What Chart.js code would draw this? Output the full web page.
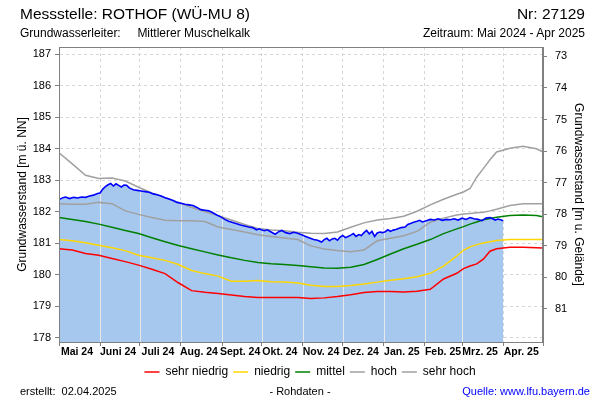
<!DOCTYPE html>
<html>
<head>
<meta charset="utf-8">
<script src="https://cdn.jsdelivr.net/npm/chart.js@4.4.1/dist/chart.umd.min.js"></script>
<style>
html,body{margin:0;padding:0;background:#fff}
#wrap{position:relative;width:600px;height:400px;font-family:"Liberation Sans",Arial,sans-serif;color:#000}
#wrap canvas{position:absolute;left:0;top:0}
.t{position:absolute;white-space:pre;line-height:1}
</style>
</head>
<body>
<div id="wrap">
  <canvas id="gwChart" width="600" height="400"></canvas>
  <div class="t" style="left:20px;top:6px;font-size:15.5px">Messstelle: ROTHOF (WÜ-MU 8)</div>
  <div class="t" style="right:15px;top:6px;font-size:15.5px">Nr: 27129</div>
  <div class="t" style="left:20px;top:27px;font-size:12px">Grundwasserleiter:     Mittlerer Muschelkalk</div>
  <div class="t" style="right:15px;top:27px;font-size:12px">Zeitraum: Mai 2024 - Apr 2025</div>
  <div class="t" style="left:20px;top:386px;font-size:11px">erstellt:  02.04.2025</div>
  <div class="t" style="left:0;width:600px;text-align:center;top:386px;font-size:11px">- Rohdaten -</div>
  <div class="t" style="right:10px;top:386px;font-size:11px;color:#0000ff">Quelle: www.lfu.bayern.de</div>
</div>
<script>
// Tage seit 01.05.2024
const monthStarts = [0, 31, 61, 92, 123, 153, 184, 214, 245, 276, 304, 335, 365];
const monthLabels = ['Mai 24', 'Juni 24', 'Juli 24', 'Aug. 24', 'Sept. 24', 'Okt. 24', 'Nov. 24', 'Dez. 24', 'Jan. 25', 'Feb. 25', 'Mrz. 25', 'Apr. 25', ''];
const levelTicks = [178, 179, 180, 181, 182, 183, 184, 185, 186, 187];
const depthTicks = [73, 74, 75, 76, 77, 78, 79, 80, 81];
const levelMin = 177.87;
const levelMax = 187.23;
const groundLevel = 259.93;

const statDays = [0,10,20,30,40,50,60,70,80,90,100,110,120,130,140,150,160,170,180,190,200,210,220,230,240,250,260,270,280,290,300,305,310,315,320,325,330,340,350,360,365];
const sehrNiedrig = [180.83,180.79,180.68,180.62,180.52,180.42,180.31,180.18,180.04,179.75,179.50,179.45,179.41,179.36,179.31,179.28,179.28,179.28,179.28,179.25,179.27,179.31,179.37,179.44,179.47,179.47,179.46,179.48,179.54,179.87,180.05,180.20,180.28,180.35,180.50,180.75,180.83,180.88,180.88,180.86,180.85];
const niedrig = [181.12,181.08,181.02,180.94,180.86,180.77,180.62,180.54,180.46,180.33,180.14,180.04,179.96,179.80,179.80,179.82,179.78,179.77,179.74,179.67,179.63,179.63,179.66,179.71,179.77,179.83,179.88,179.94,180.05,180.28,180.60,180.78,180.89,180.96,181.01,181.05,181.09,181.12,181.12,181.12,181.12];
const mittel = [181.82,181.76,181.69,181.61,181.51,181.41,181.31,181.18,181.05,180.93,180.83,180.73,180.63,180.54,180.46,180.39,180.35,180.33,180.30,180.26,180.22,180.21,180.24,180.33,180.49,180.66,180.83,180.97,181.12,181.31,181.46,181.53,181.61,181.68,181.75,181.79,181.83,181.88,181.90,181.88,181.84];
const hoch = [182.26,182.24,182.24,182.30,182.26,182.03,181.92,181.82,181.73,181.72,181.72,181.69,181.52,181.44,181.36,181.27,181.22,181.17,181.12,180.92,180.82,180.77,180.73,180.79,181.08,181.16,181.24,181.38,181.67,181.80,181.90,181.93,181.95,181.97,181.99,182.03,182.08,182.20,182.26,182.26,182.26];
const sehrHoch = [183.87,183.52,183.16,183.06,183.07,182.98,182.78,182.60,182.45,182.30,182.14,182.00,181.88,181.74,181.60,181.47,181.42,181.40,181.35,181.32,181.31,181.36,181.51,181.65,181.74,181.79,181.86,182.02,182.22,182.40,182.56,182.63,182.74,183.10,183.37,183.65,183.90,184.02,184.08,184.00,183.90];

const measuredDays = [0,3,5,8,11,14,17,20,23,26,29,31,33,35,37,39,41,43,45,47,49,51,53,56,59,62,65,68,71,74,77,80,83,86,89,92,95,98,101,104,107,110,113,116,119,122,125,128,131,134,137,140,143,146,149,151,153,155,157,160,163,166,168,171,174,177,180,183,186,189,192,195,198,200,202,204,206,208,210,212,214,216,218,220,222,224,226,228,230,232,234,236,238,240,242,244,246,248,250,252,254,256,258,261,263,265,268,270,272,274,277,280,283,286,289,292,295,298,301,304,307,310,313,316,319,322,325,327,329,331,333,335];
const measuredLevels = [182.39,182.45,182.47,182.42,182.46,182.44,182.47,182.46,182.50,182.53,182.58,182.60,182.72,182.80,182.86,182.90,182.82,182.89,182.84,182.79,182.85,182.84,182.76,182.70,182.68,182.66,182.64,182.62,182.57,182.54,182.50,182.45,182.41,182.36,182.30,182.27,182.24,182.22,182.20,182.14,182.07,182.05,182.03,181.97,181.90,181.84,181.76,181.70,181.66,181.62,181.58,181.55,181.52,181.50,181.43,181.46,181.42,181.40,181.43,181.36,181.29,181.38,181.41,181.34,181.31,181.35,181.32,181.27,181.22,181.17,181.12,181.10,181.04,181.12,181.16,181.08,181.14,181.16,181.10,181.20,181.25,181.18,181.22,181.26,181.31,181.22,181.28,181.25,181.34,181.41,181.30,181.38,181.22,181.33,181.36,181.34,181.37,181.43,181.38,181.42,181.44,181.47,181.50,181.52,181.60,181.63,181.68,181.70,181.73,181.68,181.72,181.76,181.74,181.78,181.73,181.76,181.75,181.78,181.74,181.80,181.76,181.82,181.78,181.76,181.72,181.80,181.82,181.78,181.74,181.77,181.75,181.72];

const FONT = '"Liberation Sans", Arial, sans-serif';
const AXIS_GREY = '#808080';
const GRID_GREY = '#d6d6d6';

function toPoints(days, values){ return days.map((d, i) => ({ x: d, y: values[i] })); }
function statLine(label, values, color, order){
  return { label, data: toPoints(statDays, values), borderColor: color, backgroundColor: color, borderWidth: 1.5, fill: false, order };
}

// helle Monatslinien innerhalb der blauen Fläche + Rahmen
const monthLinesPlugin = {
  id: 'monthLines',
  afterDatasetDraw(chart, args){
    if (args.index !== 0) return;
    const pts = args.meta.data;
    const xs = chart.scales.x, ctx = chart.ctx, bottom = chart.chartArea.bottom;
    ctx.save();
    ctx.strokeStyle = '#e8e8e8';
    ctx.lineWidth = 1;
    monthStarts.slice(1, -1).forEach(d => {
      const px = Math.round(xs.getPixelForValue(d)) + 0.5;
      for (let i = 1; i < pts.length; i++) {
        const a = pts[i - 1], b = pts[i];
        if (px >= a.x && px <= b.x) {
          const top = a.y + (b.y - a.y) * (px - a.x) / (b.x - a.x);
          ctx.beginPath(); ctx.moveTo(px, bottom); ctx.lineTo(px, top); ctx.stroke();
          break;
        }
      }
    });
    ctx.restore();
  },
  afterDraw(chart){
    const a = chart.chartArea, ctx = chart.ctx;
    ctx.save();
    ctx.strokeStyle = AXIS_GREY;
    ctx.lineWidth = 1;
    ctx.strokeRect(Math.round(a.left) + 0.5, Math.round(a.top) + 0.5, Math.round(a.right - a.left) - 1, Math.round(a.bottom - a.top));
    ctx.restore();
  }
};

Chart.defaults.font.family = FONT;
Chart.defaults.color = '#000';

new Chart(document.getElementById('gwChart').getContext('2d'), {
  type: 'line',
  data: {
    datasets: [
      { label: 'Messwerte Fläche', data: toPoints(measuredDays, measuredLevels), borderWidth: 0, borderColor: 'rgba(0,0,0,0)', backgroundColor: '#a6c8ee', fill: 'start', order: 10 },
      statLine('sehr niedrig', sehrNiedrig, '#ff0000', 2),
      statLine('niedrig', niedrig, '#ffd700', 3),
      statLine('mittel', mittel, '#008000', 4),
      statLine('hoch', hoch, '#a0a0a0', 5),
      statLine('sehr hoch', sehrHoch, '#a0a0a0', 6),
      { label: 'Messwerte', data: toPoints(measuredDays, measuredLevels), borderColor: '#0000ff', borderWidth: 1.6, fill: false, order: 1 }
    ]
  },
  options: {
    responsive: false,
    animation: false,
    events: [],
    layout: { padding: { left: 20, right: 0, top: 47, bottom: 12 } },
    elements: { point: { radius: 0 }, line: { tension: 0 } },
    plugins: {
      tooltip: { enabled: false },
      legend: {
        position: 'bottom',
        labels: {
          usePointStyle: true, pointStyle: 'line', pointStyleWidth: 15, padding: 5,
          font: { size: 12 }, color: '#000',
          filter: item => item.text !== 'Messwerte' && item.text !== 'Messwerte Fläche'
        }
      }
    },
    scales: {
      x: {
        type: 'linear', min: 0, max: 365,
        afterBuildTicks: s => { s.ticks = monthStarts.map(v => ({ value: v })); },
        afterFit: s => { s.height = 19; },
        ticks: { autoSkip: false, maxRotation: 0, labelOffset: 18, padding: 0, font: { size: 10.5, weight: 'bold' }, color: '#000', callback: (v, i) => monthLabels[i] },
        grid: { color: GRID_GREY, tickColor: AXIS_GREY, tickLength: 4, tickBorderDash: [] },
        border: { color: AXIS_GREY, dash: [3, 3] }
      },
      y: {
        type: 'linear', position: 'left', min: levelMin, max: levelMax,
        afterBuildTicks: s => { s.ticks = levelTicks.map(v => ({ value: v })); },
        afterFit: s => { s.width = 39; },
        ticks: { font: { size: 11 }, color: '#000', padding: 4 },
        grid: { color: GRID_GREY, tickColor: AXIS_GREY, tickLength: 4, tickBorderDash: [] },
        border: { color: AXIS_GREY, dash: [3, 3] },
        title: { display: true, text: 'Grundwasserstand [m ü. NN]', font: { size: 12 }, color: '#000', padding: { top: -5, bottom: 0 } }
      },
      y2: {
        type: 'linear', position: 'right', reverse: true,
        min: groundLevel - levelMax, max: groundLevel - levelMin,
        afterBuildTicks: s => { s.ticks = depthTicks.map(v => ({ value: v })); },
        afterFit: s => { s.width = 57; },
        ticks: { font: { size: 11 }, color: '#000', padding: 8 },
        grid: { drawOnChartArea: false, tickColor: AXIS_GREY, tickLength: 4 },
        border: { color: AXIS_GREY },
        title: { display: true, text: 'Grundwasserstand [m u. Gelände]', font: { size: 12 }, color: '#000', padding: { top: 14, bottom: 0 } }
      }
    }
  },
  plugins: [monthLinesPlugin]
});
</script>
</body>
</html>
